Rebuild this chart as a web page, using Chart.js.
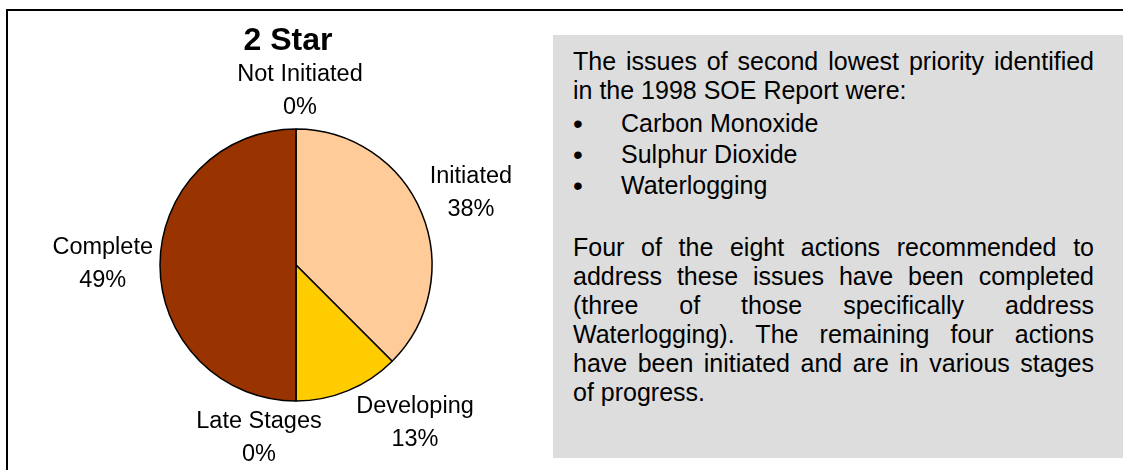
<!DOCTYPE html>
<html>
<head>
<meta charset="utf-8">
<title>2 Star</title>
<script src="https://cdn.jsdelivr.net/npm/chart.js@4.4.1/dist/chart.umd.min.js"></script>
<style>
  html, body { margin: 0; padding: 0; background: #fff; }
  body { width: 1123px; height: 470px; position: relative; overflow: hidden;
         font-family: "Liberation Sans", Arial, sans-serif; color: #000; }
  .frame { position: absolute; left: 6px; top: 9px; width: 1300px; height: 700px;
           border-top: 2px solid #000; border-left: 2px solid #000; }
  #pieChart { position: absolute; left: 0; top: 0; }
  .note { position: absolute; left: 553px; top: 35px; width: 600px; height: 423px;
          background: #dddddd; box-sizing: border-box; padding: 12px 0 0 20px; }
  .note .txt { width: 521px; font-size: 25px; line-height: 29px; text-align: justify; }
  .note p { margin: 0; }
  .note ul { list-style: none; margin: 3px 0 0 0; padding: 0; }
  .note li { position: relative; padding-left: 48px; line-height: 31px; }
  .note li::before { content: "\2022"; position: absolute; left: 0; top: 0; font-size: 28px; }
  .note p.after { margin-top: 32px; }
</style>
</head>
<body>
<div class="frame"></div>
<canvas id="pieChart" width="592" height="470"></canvas>
<div class="note">
  <div class="txt">
    <p>The issues of second lowest priority identified in the 1998 SOE Report were:</p>
    <ul>
      <li>Carbon Monoxide</li>
      <li>Sulphur Dioxide</li>
      <li>Waterlogging</li>
    </ul>
    <p class="after">Four of the eight actions recommended to address these issues have been completed (three of those specifically address Waterlogging). The remaining four actions have been initiated and are in various stages of progress.</p>
  </div>
</div>
<script>
// slices, clockwise from the top
const categories = ['Not Initiated', 'Initiated', 'Developing', 'Late Stages', 'Complete'];
const sliceShares = [0, 37.5, 12.5, 0, 50];
const pctLabels = ['0%', '38%', '13%', '0%', '49%'];
const sliceColours = ['#ffffcc', '#ffcc99', '#ffcc00', '#cc6600', '#993300'];
const chartTitle = '2 Star';

const FONT = '"Liberation Sans", Arial, sans-serif';
Chart.defaults.font.family = FONT;

// Excel-like outside labels (name over percent) plus the title
const pieLabels = {
  id: 'pieLabels',
  afterDatasetsDraw(chart, args, opts) {
    const ctx = chart.ctx;
    const meta = chart.getDatasetMeta(0);
    ctx.save();
    ctx.fillStyle = opts.color;
    ctx.textAlign = 'center';
    ctx.textBaseline = 'middle';

    ctx.font = 'bold ' + opts.titleSize + 'px ' + FONT;
    const area = chart.chartArea;
    ctx.fillText(chartTitle, (area.left + area.right) / 2 + opts.titleDx, opts.titleY);

    ctx.font = opts.size + 'px ' + FONT;
    meta.data.forEach((arc, i) => {
      const p = arc.getProps(['x', 'y', 'startAngle', 'endAngle', 'outerRadius'], true);
      const mid = (p.startAngle + p.endAngle) / 2;
      const lines = [categories[i], pctLabels[i]];
      const w = Math.max(...lines.map(l => ctx.measureText(l).width));
      const h = lines.length * opts.lineHeight;
      const cos = Math.cos(mid), sin = Math.sin(mid);
      const reach = Math.abs(cos) * w / 2 + Math.abs(sin) * h / 2;
      const d = p.outerRadius + opts.gap + reach;
      const nudge = opts.nudge[i] || [0, 0];
      const cx = p.x + cos * d + nudge[0];
      const cy = p.y + sin * d + nudge[1];
      lines.forEach((l, k) => {
        ctx.fillText(l, cx, cy + (k - (lines.length - 1) / 2) * opts.lineHeight);
      });
    });
    ctx.restore();
  }
};

new Chart(document.getElementById('pieChart'), {
  type: 'pie',
  data: {
    labels: categories,
    datasets: [{
      data: sliceShares,
      backgroundColor: sliceColours,
      borderColor: '#000',
      borderWidth: 1.5
    }]
  },
  options: {
    responsive: false,
    animation: false,
    radius: 136,
    layout: { padding: { top: 97, bottom: 37, left: 0, right: 0 } },
    plugins: {
      legend: { display: false },
      tooltip: { enabled: false },
      title: { display: false },
      pieLabels: {
        size: 23.5,
        lineHeight: 33,
        gap: 7,
        color: '#000',
        titleSize: 32,
        titleY: 41,
        titleDx: -8,
        nudge: [[4, 2], [-4, 2], [44, -23], [-37, -3], [0, -1]]
      }
    }
  },
  plugins: [pieLabels]
});
</script>
</body>
</html>
